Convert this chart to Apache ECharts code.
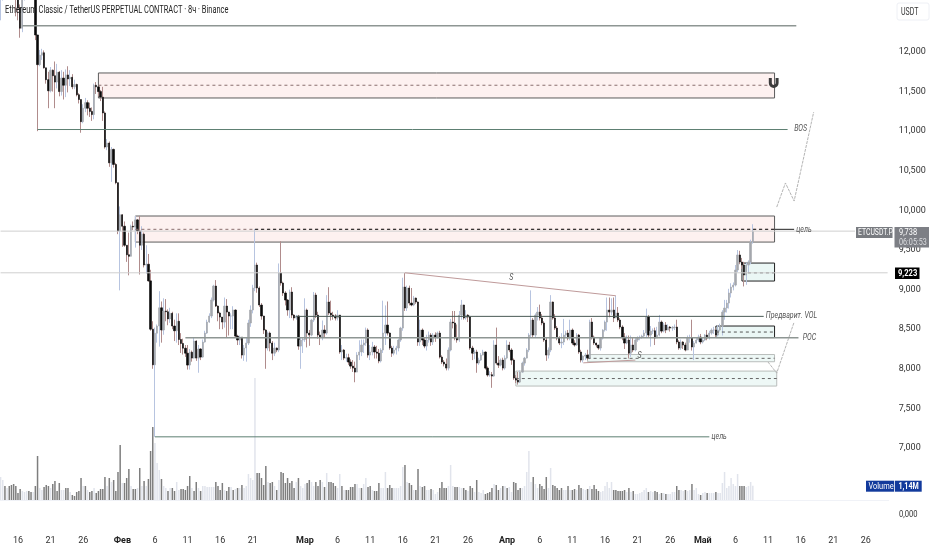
<!DOCTYPE html>
<html><head><meta charset="utf-8">
<style>html,body{margin:0;padding:0;background:#fff}#c{width:932px;height:550px}</style>
<script src="https://cdn.jsdelivr.net/npm/echarts@6/dist/echarts.min.js"></script>
</head><body><div id="c"></div>
<script>
// 8-hour candles, first one on 13 Jan 08:00
const close=[12750,12800,12780,12850,12820,12780,12800,12700,12560,12300,
12680,12800,12850,12780,12820,12750,12215,11840,11960,11990,
11800,11650,11510,11770,11700,11620,11745,11500,11670,11580,
11710,11660,11680,11560,11590,11460,11400,11120,11290,11360,
11290,11250,11210,11580,11560,11500,11430,11230,10800,10850,
10600,10770,10580,10350,9740,9945,9800,9560,9440,9420,
9800,9790,9880,9740,9560,9700,9310,9320,9110,8500,
8050,8450,8540,8770,8490,8730,8720,8630,8700,8540,
8480,8600,8370,8320,8260,8197,8047,8210,8135,8350,
8135,8250,8148,8338,8451,8590,8666,8868,9045,8792,
8704,8653,8590,8792,8716,8666,8666,8742,8413,8363,
8400,8173,8262,8325,8578,8742,9020,9310,9020,8805,
8666,8489,8262,8451,8325,8197,8262,8237,9209,9083,
8957,8868,8742,8969,8678,8641,8666,8287,8363,8370,
8742,8451,8426,8615,8931,8678,8426,8400,8489,8451,
8843,8704,8678,8666,8641,8678,8212,8237,8135,8140,
8085,8034,8009,7958,8173,8212,8300,8325,8489,8173,
8212,8275,8212,8197,8098,8237,8451,8552,8451,8262,
8197,8237,8262,8363,8514,9032,8767,9020,8830,8805,
8893,8843,8338,8489,8363,8287,8363,8426,8338,8426,
8400,8451,8148,8085,8060,8009,8237,8590,8578,8388,
8363,8678,8805,8641,8678,8653,8262,8197,8212,8072,
8110,8173,8212,8009,7921,7925,7908,8300,8072,8047,
8110,8009,8135,8300,8237,8110,7883,7857,7832,7958,
8072,8135,8237,8426,8615,8426,8678,8716,8641,8578,
8363,8173,8237,8843,8641,8514,8388,8325,8338,8426,
8451,8388,8489,8325,8300,8426,8212,8110,8160,8173,
8135,8590,8400,8325,8300,8262,8388,8489,8590,8742,
8716,8742,8641,8704,8615,8527,8400,8325,8363,8197,
8300,8237,8363,8388,8400,8413,8451,8653,8426,8476,
8480,8388,8426,8590,8476,8552,8489,8527,8514,8520,
8527,8338,8262,8338,8300,8237,8388,8390,8275,8325,
8363,8400,8338,8363,8426,8388,8451,8489,8490,8426,
8489,8539,8716,8767,8830,8957,9032,9057,9247,9437,
9348,9310,9184,9310,9348,9600,9738];
const high=[12900,12950,12900,12950,12950,12900,12920,12850,12720,12600,
12750,12900,12950,12900,12950,12850,12800,12215,12025,12040,
12020,11800,11750,11810,11780,11880,11850,11760,11770,11750,
11780,11820,11770,11720,11650,11600,11480,11400,11340,11420,
11390,11360,11300,11600,11620,11570,11520,11560,11250,10900,
10870,10800,10780,10600,10350,10050,9950,9860,9560,9720,
9820,9860,9930,9890,9930,9800,9720,9560,9450,9250,
8600,8520,8560,8980,8850,8890,8880,8750,8770,8720,
8620,8700,8700,8450,8380,8300,8300,8250,8230,8400,
8360,8300,8260,8370,8480,8620,8700,8900,9060,9120,
8800,8720,8640,8900,8880,8720,8700,8790,8750,8430,
8420,8400,8300,8400,8620,8800,9060,9765,9340,9040,
8830,8670,8500,8470,8470,8350,8330,8270,9330,9610,
9100,8980,8880,9000,9030,8690,8680,8680,8400,8400,
8890,8760,8490,8630,8970,8960,8720,8470,8610,8550,
8930,9030,8860,8720,8690,8740,8680,8300,8250,8190,
8190,8120,8110,8090,8210,8360,8370,8370,8520,8510,
8300,8340,8300,8290,8250,8260,8860,8800,8850,8460,
8290,8290,8290,8380,8530,9150,9210,9050,9050,9020,
8920,8900,8850,8620,8510,8390,8430,8470,8450,8450,
8460,8470,8480,8170,8110,8130,8270,8630,8730,8730,
8560,8730,8870,8810,8740,8690,8670,8290,8240,8240,
8140,8200,8240,8220,8030,7970,7960,8360,8520,8160,
8130,8140,8170,8360,8340,8260,8130,7920,7960,7980,
8090,8150,8260,8450,8990,8640,8700,8780,8810,8690,
8600,8390,8270,8930,8850,8690,8540,8410,8450,8630,
8480,8490,8620,8510,8360,8450,8440,8240,8170,8200,
8240,8620,8640,8420,8330,8300,8400,8500,8610,8900,
8900,8890,8900,8920,8780,8640,8550,8450,8420,8420,
8420,8390,8390,8410,8420,8430,8490,8760,8680,8540,
8510,8520,8530,8680,8610,8580,8590,8560,8540,8540,
8560,8620,8360,8370,8350,8330,8420,8430,8620,8350,
8400,8430,8440,8390,8440,8490,8480,8510,8530,8510,
8550,8570,8740,8870,8870,9010,9080,9090,9310,9500,
9490,9400,9350,9340,9370,9630,9825];
const low=[12400,12650,12680,12720,12700,12680,12700,12450,12400,12180,
12250,12650,12750,12700,12700,12680,12150,11000,11820,11900,
11790,11600,11290,11490,11500,11290,11540,11440,11450,11400,
11430,11490,11570,11530,11530,11440,11350,10980,11100,11240,
11200,11180,11130,11150,11470,11440,11380,11130,10780,10760,
10550,10360,10540,10330,9700,8990,9540,9540,9350,9180,
9420,9750,9530,9700,9190,9500,9280,9200,9100,8480,
8000,7140,8330,8280,8330,8430,8600,8550,8580,8500,
8350,8330,8300,8200,8180,8150,7990,7990,8090,8130,
8100,7950,8110,8140,8330,8440,8580,8640,8850,8780,
8600,8500,8500,8520,8400,8420,8500,8500,8390,8300,
8300,8130,8100,8090,8300,8530,8700,8980,8960,8780,
8620,8440,8000,8230,8220,8110,8160,8210,8210,9050,
8920,8800,8670,8640,8640,8610,8620,8240,8000,8200,
8340,8270,8290,8410,8590,8640,8380,8300,8360,8390,
8430,8680,8610,8620,8610,8610,8190,8110,8110,8090,
8050,8000,7960,7830,7960,8110,8160,8200,8290,8140,
8110,8170,8130,8130,8070,8080,8200,8300,8420,8240,
8150,8170,8180,8220,8340,8480,8730,8730,8800,8790,
8790,8820,8290,8290,8300,8260,8230,8330,8290,8300,
8340,8380,8130,8060,8030,7980,7980,8220,8510,8360,
8330,8340,8620,8620,8620,8590,8240,8110,8120,7950,
8050,8100,8170,7990,7900,7900,7760,7900,8050,8010,
8030,7980,7990,8120,8210,8050,7860,7820,7800,7820,
7950,8040,8130,8210,8400,8390,8400,8610,8610,8550,
8340,8100,8130,8210,8620,8490,8360,8300,8260,8300,
8390,8360,8360,8300,8280,8290,8190,8080,8080,8110,
8110,8120,8370,8300,8270,8240,8230,8370,8470,8480,
8650,8680,8590,8640,8590,8500,8360,8250,8310,8130,
8150,8210,8220,8340,8360,8380,8400,8400,8400,8280,
8440,8300,8390,8410,8450,8460,8450,8490,8470,8480,
8490,8310,8240,8240,8250,8220,8240,8330,8230,8110,
8320,8340,8310,8320,8350,8360,8370,8430,8440,8400,
8410,8470,8420,8620,8710,8760,8900,8990,9040,9220,
9320,9260,9040,9060,9210,9320,9580];
// volume in millions
const volume=[1.84,1.6,1.12,.96,1.12,1.2,1.28,1.12,.56,.88,
.72,.64,.72,.72,.64,.64,1.12,3.52,.96,.8,
1.04,1.2,1.12,.96,1.28,1.52,.72,1.36,.8,.8,
.96,.96,.64,.4,.32,.64,.72,1.76,1.12,1.12,
.8,.64,.72,.96,.56,.72,.88,.88,1.84,1.12,
1.76,1.44,1.6,.72,2.24,4.4,1.36,1.36,1.76,2.48,
1.12,.88,.88,.96,2.56,1.12,1.52,1.12,1.68,3.92,
5.84,4.56,2.96,2.4,1.68,1.12,.96,.72,.96,.96,
.72,1.44,.8,.88,.88,.8,1.12,1.92,.96,.72,
1.44,.96,.72,1.12,1.12,1.04,1.04,1.04,1.04,1.44,
1.12,.8,1.36,.8,.72,1.04,1.04,.8,.88,.96,
.96,1.2,.96,1.12,2.08,1.76,1.6,9.76,2.16,2.16,
1.76,1.2,2.72,1.44,1.36,1.44,1.12,.8,1.6,2.24,
2.16,1.36,1.76,1.36,1.52,.96,1.44,1.76,1.12,.96,
1.28,1.36,1.6,1.44,1.12,1.44,1.12,1.6,1.44,1.04,
2.16,1.44,1.44,1.36,1.12,.96,2.08,1.12,.8,.8,
.8,1.04,1.04,1.28,1.28,.96,.96,1.28,1.76,1.04,
1.12,.8,.72,.72,1.36,.96,.96,2.24,.96,1.2,
.96,.96,.96,.96,1.12,2.64,2.8,1.44,1.36,1.2,
.8,.8,2.48,1.12,1.04,1.12,.8,.8,.88,.8,
.48,.64,.96,1.44,.96,.96,1.12,2.8,1.12,1.04,
1.04,1.04,.96,.96,.8,.72,1.12,.96,.64,1.6,
.64,.56,.8,.48,.56,.64,.96,1.28,1.2,.8,
.96,1.12,1.12,.96,1.04,.64,1.44,1.36,.8,.96,
.96,1.12,2.24,3.92,1.44,1.84,1.28,.96,1.28,1.12,
.88,1.84,.96,2.56,1.2,1.12,.96,.8,.96,.8,
.8,1.12,.8,.8,.88,.8,1.2,.96,.88,.8,
.88,1.12,.88,1.2,.88,.72,.64,.72,1.12,1.44,
.96,1.44,.8,.8,.72,.72,.72,.8,.64,.96,
.64,.72,.48,.48,.56,.64,.8,.96,.64,.72,
.64,.72,.64,.48,.56,.56,.48,.48,.48,.64,
.64,1.12,.8,.8,.72,.8,.72,.8,1.28,.8,
.96,.48,.4,.56,.64,.56,.56,.56,.56,.64,
.56,.56,1.36,2.24,.96,1.12,1.76,1.28,1.12,2.08,
1.12,1.12,1.12,1.04,1.12,1.44,1.14];
// 1 = volume bar drawn in the falling colour
const volumeFalling=("0010111111"+"0001101100"+"1110111100"+"1101111101"+"0110111110"+"1011110111"+
"0110101011"+"1000100101"+"1001111101"+"1010000001"+"1110110101"+"0100000011"+"1110110101"+
"1111110100"+"0110011101"+"0111100101"+"1111001001"+"1011100011"+"1000001011"+"0110110010"+
"0011110001"+"1001101101"+"0001111011"+"0101001111"+"0000010011"+"1100111110"+"0101101100"+
"1011110000"+"0011111101"+"0100000010"+"0110101000"+"0110010010"+"0010010001"+"0000000000"+"1110000").split("").map(Number);
// category axis: every 8-hour slot out to the right edge of the pane
const slotCount=409, firstDay=Date.UTC(2025,0,13,8);
const slots=Array.from({length:slotCount},(_,i)=>new Date(firstDay+i*8*3600e3).toISOString().slice(0,13));
const tickSlots=[8,23,38,56,71,86,101,116,140,155,170,185,200,215,233,248,263,278,293,308,323,338,353,368,383,398];
const tickLabels=["16","21","26","Фев","6","11","16","21","Мар","6","11","16","21","26","Апр","6","11","16","21","26","Май","6","11","16","21","26"];
const monthLabels=["Фев","Мар","Апр","Май"];
// drawn zones: [slot from, slot to, top price, bottom price, mid price, kind]
const zones=[
 [45,356,11735,11419,11580,"red"],
 [62,356,9929,9600,9761,"red"],
 [341,356,9335,9108,9212,"green"],
 [329,356,8540,8394,8464,"green"],
 [270,356,8180,8089,8132,"pale"],
 [237,357,7971,7782,7877,"pale"]
];
// horizontal levels: [slot from, slot to, price, kind]
const levels=[
 [10,366,12332,"thick"],
 [17,362,11021,"green"],
 [0,393,9738,"price"],
 [0,408,9212,"price"],
 [136,351,8662,"dark"],
 [85,367,8392,"thick"],
 [71,326,7141,"green"],
 [356,365,9761,"black"],
 [117,356,9761,"blackDash"]
];
// sloped drawings
const paths=[
 {name:"S",points:[[186,9212],[283,8922]],kind:"rose"},
 {name:"S low",points:[[268,8075],[292,8110]],kind:"rose"},
 {name:"Projection up",points:[[357,10042],[361,10346],[365,10118],[374,11242]],kind:"proj"},
 {name:"Projection down",points:[[353,8085],[357,7946],[365,8590]],kind:"proj"}
];
const notes=[
 [366,9761,"цель"],[365,11027,"BOS"],[352,8666,"Предварит. VOL"],[369,8392,"POC"],
 [327,7141,"цель"],[234,9146,"S"],[293,8160,"S"]
];
const priceTicksFrom=7000, priceTicksTo=12000;

const FONT='"Roboto",sans-serif';
const open=close.map((c,i)=>i?close[i-1]:c);
const full=close.map((c,i)=>[open[i],c,Math.min(low[i],open[i],c),Math.max(high[i],open[i],c)]);
const bodies=close.map((c,i)=>[open[i],c,Math.min(open[i],c),Math.max(open[i],c)]);
const zoneStyle={red:{fill:"#fdf1f0",stroke:"#5c5c5c",dash:"#8a6f6f"},green:{fill:"#ebf7f5",stroke:"#222",dash:"#555"},pale:{fill:"#eef8f6",stroke:"#b9bdbb",dash:"#666"}};
const levelStyle={thick:["#8e9693",1.4],green:["#5d7f72",1],price:["#cfcfcf",1],dark:["#4a5a55",1],black:["#222",1],blackDash:["#222",1,[3,3]]};

const lineSeries=levels.map((l,i)=>({
  name:"level"+i,type:"line",xAxisIndex:0,yAxisIndex:0,z:5,silent:true,showSymbol:false,
  data:[[l[0],l[2]],[Math.min(l[1],slotCount-1),l[2]]],clip:false,
  lineStyle:{color:levelStyle[l[3]][0],width:levelStyle[l[3]][1],type:levelStyle[l[3]][2]||"solid"}
}));
const pathSeries=paths.map(p=>({
  name:p.name,type:"line",xAxisIndex:0,yAxisIndex:0,z:5,silent:true,showSymbol:false,data:p.points,
  lineStyle:p.kind==="rose"?{color:"#bf9a9a",width:1}:{color:"#b4b4b4",width:1,type:[3,1]}
}));
const midSeries=zones.map((z,i)=>({
  name:"mid"+i,type:"line",xAxisIndex:0,yAxisIndex:0,z:5,silent:true,showSymbol:false,
  data:[[z[0],z[4]],[z[1],z[4]]],
  lineStyle:{color:zoneStyle[z[5]].dash,width:1,type:[3,3]}
}));
const tx=(text,x,y,size,fill,scaleX,weight)=>({type:"text",z:21,x,y,scaleX,style:{text,fontFamily:FONT,fontSize:size,fill,fontWeight:weight||"normal"}});

const option={
  animation:false,backgroundColor:"#fff",
  grid:[{left:-0.5,width:889.2,top:0.5,height:526.7,outerBoundsMode:"none"},{left:-0.5,width:889.2,top:300,height:200,outerBoundsMode:"none"}],
  xAxis:[
   {type:"category",gridIndex:0,data:slots,boundaryGap:true,
    axisLine:{show:false},axisTick:{show:false},splitLine:{show:false},
    axisLabel:{margin:9,fontFamily:FONT,fontSize:9,color:"#333",hideOverlap:false,
      interval:(i)=>tickSlots.includes(i),
      formatter:(v,i)=>{const t=tickLabels[tickSlots.indexOf(i)];return monthLabels.includes(t)?"{m|"+t+"}":t;},
      rich:{m:{fontFamily:FONT,fontSize:9,fontWeight:"bold",color:"#222"}}}},
   {type:"category",gridIndex:1,data:slots,boundaryGap:true,
    axisLine:{show:true,lineStyle:{color:"#f0f2f7"}},axisTick:{show:false},axisLabel:{show:false},splitLine:{show:false}}
  ],
  yAxis:[
   {type:"value",gridIndex:0,position:"right",min:6000,max:12650,interval:500,
    axisLine:{show:false},axisTick:{show:false},splitLine:{show:false},
    axisLabel:{margin:10,align:"left",fontFamily:FONT,fontSize:9,color:"#333",
      formatter:v=>(v<priceTicksFrom||v>priceTicksTo)?"":String(v).replace(/(\d)(\d{3})$/,"$1,$2")}},
   {type:"value",gridIndex:1,min:0,max:16,show:false,splitLine:{show:false}}
  ],
  series:[
   {name:"Volume",type:"bar",xAxisIndex:1,yAxisIndex:1,barWidth:1.5,z:1,silent:true,
    data:volume.map((v,i)=>({value:v,itemStyle:{color:volumeFalling[i]?"#7e7e7e":"#e1e4ec"}}))},
   {name:"Zones",type:"custom",xAxisIndex:0,yAxisIndex:0,z:2,silent:true,clip:false,
    data:zones.map((z,i)=>[z[0],z[2],z[1],z[3],i]),encode:{x:[0,2],y:[1,3]},
    renderItem:(p,api)=>{
      const a=api.coord([api.value(0),api.value(1)]),b=api.coord([api.value(2),api.value(3)]);
      const s=zoneStyle[zones[api.value(4)][5]];
      return {type:"rect",shape:{x:a[0],y:a[1],width:b[0]-a[0],height:b[1]-a[1]},style:{fill:s.fill,stroke:s.stroke,lineWidth:1}};
    }},
   {name:"Wicks",type:"candlestick",xAxisIndex:0,yAxisIndex:0,z:3,silent:true,barWidth:1,data:full,
    itemStyle:{color:"#b7c4e0",color0:"#b08c8c",borderColor:"#b7c4e0",borderColor0:"#b08c8c",borderWidth:1}},
   {name:"ETCUSDT.P",type:"candlestick",xAxisIndex:0,yAxisIndex:0,z:4,silent:true,barWidth:1.8,data:bodies,
    itemStyle:{color:"#a4a7ad",color0:"#0a0a0a",borderColor:"#a4a7ad",borderColor0:"#0a0a0a",borderWidth:0.6}},
   ...midSeries,...lineSeries,...pathSeries,
   {name:"Notes",type:"custom",xAxisIndex:0,yAxisIndex:0,z:6,silent:true,clip:false,
    data:notes.map((n,i)=>[n[0],n[1],i]),encode:{x:0,y:1},
    renderItem:(p,api)=>{
      const a=api.coord([api.value(0),api.value(1)]);
      return {type:"text",x:a[0],y:a[1],scaleX:0.78,style:{text:notes[api.value(2)][2],fill:"#555",fontFamily:FONT,fontSize:9,fontStyle:"italic",align:"left",verticalAlign:"middle"}};
    }}
  ],
  graphic:[
   tx("Ethereum Classic / TetherUS PERPETUAL CONTRACT · 8ч · Binance",5,5.5,10,"#222",0.745),
   {type:"rect",z:20,shape:{x:897,y:3,width:32,height:17,r:2},style:{fill:"#fff",stroke:"#eef0f5"}},
   tx("USDT",901,7,10,"#333",0.7),
   tx("0,000",899,509.5,9.5,"#333",0.8),
   {type:"rect",z:20,shape:{x:856,y:227,width:36.5,height:11},style:{fill:"#787b80"}},
   tx("ETCUSDT.P",858,228,9.5,"#fff",0.72),
   {type:"rect",z:20,shape:{x:894.5,y:227,width:34.5,height:20.5},style:{fill:"#7d7f85"}},
   tx("9,738",899,228,9.5,"#fff",0.78),
   tx("06:05:53",899,238,9,"#dcdde0",0.8),
   {type:"rect",z:20,shape:{x:895,y:267.5,width:24.5,height:11.5},style:{fill:"#000"}},
   tx("9,223",898,268.5,9.5,"#fff",0.8,"bold"),
   {type:"rect",z:20,shape:{x:866,y:480.7,width:28.2,height:11},style:{fill:"#123a9c"}},
   tx("Volume",868.5,481.7,9.5,"#fff",0.78),
   {type:"rect",z:20,shape:{x:895,y:480.7,width:26.7,height:11},style:{fill:"#123a9c"}},
   tx("1,14M",898.5,481.7,9.5,"#fff",0.75,"bold"),
   {type:"arc",z:20,shape:{cx:773.7,cy:83,r:3.4,startAngle:0,endAngle:Math.PI,clockwise:true},style:{fill:"none",stroke:"#3c3c3c",lineWidth:3}},
   {type:"line",z:20,shape:{x1:770.3,y1:78,x2:770.3,y2:83},style:{stroke:"#3c3c3c",lineWidth:3}},
   {type:"line",z:20,shape:{x1:777.1,y1:78,x2:777.1,y2:83},style:{stroke:"#3c3c3c",lineWidth:3}}
  ]
};
const chart=echarts.init(document.getElementById("c"),null,{renderer:"canvas"});
chart.setOption(option);
</script></body></html>
